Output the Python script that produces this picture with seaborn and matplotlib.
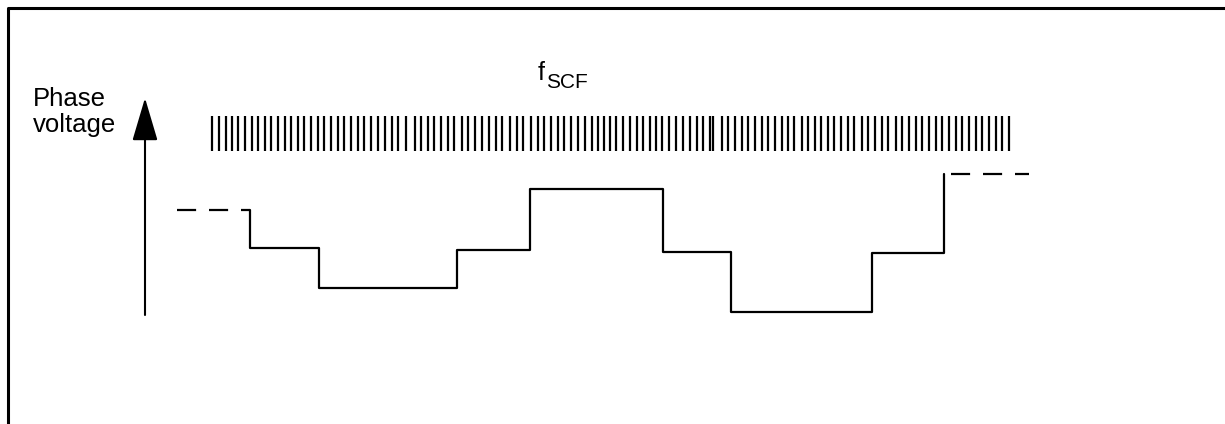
import matplotlib
matplotlib.use('Agg')
import matplotlib.pyplot as plt
import seaborn as sns
import pandas as pd

# Switched-capacitor clock pulses (horizontal positions)
clock_ticks = [
    212, 219, 226, 232, 238, 245, 252, 258, 265, 271, 278, 285, 291, 298, 304,
    311, 318, 324, 331, 338, 344, 351, 358, 364, 371, 378, 385, 392, 398, 406,
    415, 421, 428, 434, 441, 448, 454, 462, 468, 475, 482, 489, 496, 502, 510,
    517, 523, 531, 538, 544, 551, 558, 564, 571, 578, 585, 592, 598, 604,
    610, 616, 623, 630, 637, 643, 650, 656, 662, 669, 676, 683, 690, 697, 703,
    710, 713, 722, 728, 735, 742, 748, 755, 762, 768, 775, 782, 788, 794, 802,
    808, 815, 821, 828, 834, 841, 848, 854, 862, 868, 875, 882, 888, 896, 902,
    909, 916, 922, 929, 936, 942, 949, 956, 962, 969, 976, 982, 989, 996, 1002,
    1009,
]
tick_low, tick_high = 273, 308

# Stepped phase voltage (time of each step, level after the step)
step_times = [250, 250, 319, 457, 530, 663, 731, 872, 944]
step_levels = [214, 176, 136.5, 174, 235, 172, 112, 171, 250]

# Dashed continuation before and after the drawn part
lead_times = [177, 250]
lead_levels = [214, 214]
tail_times = [951, 1029]
tail_levels = [250, 250]

sns.set_style('white')
plt.rcParams['font.family'] = ['Liberation Sans', 'DejaVu Sans']
plt.rcParams['text.color'] = 'black'

fig = plt.figure(figsize=(12.25, 4.24), dpi=100)
ax = fig.add_axes([0, 0, 1, 1])
ax.set_xlim(0, 1225)
ax.set_ylim(0, 424)
ax.axis('off')

# frame (cut by the picture edge on the right and bottom)
ax.plot([7.5, 7.5, 1225], [0, 416.5, 416.5], color='black', lw=2.2,
        solid_capstyle='projecting')

wave = pd.DataFrame({'t': step_times, 'v': step_levels})
sns.lineplot(data=wave, x='t', y='v', estimator=None, sort=False,
             drawstyle='steps-post', color='black', lw=1.6, ax=ax)

for tt, vv in [(lead_times, lead_levels), (tail_times, tail_levels)]:
    ax.plot(tt, vv, color='black', lw=1.6, linestyle=(0, (8.6, 5.8)))

ax.vlines(clock_ticks, tick_low, tick_high, color='black', lw=1.6)

# voltage axis arrow
ax.annotate('', xy=(145, 326), xytext=(145, 109),
            arrowprops=dict(arrowstyle='-|>,head_length=2.7,head_width=0.8',
                            mutation_scale=10, color='black', lw=1.5,
                            shrinkA=0, shrinkB=0))

ax.text(33, 318, 'Phase', fontsize=18.5, va='baseline', ha='left', color='black')
ax.text(33, 292, 'voltage', fontsize=18.5, va='baseline', ha='left', color='black')

ax.text(538, 344, 'f', fontsize=18, va='baseline', ha='left', color='black')
ax.text(546, 336, 'SCF', fontsize=15, va='baseline', ha='left', color='black')

plt.savefig('out.png', dpi=100, facecolor='white')
plt.close()
